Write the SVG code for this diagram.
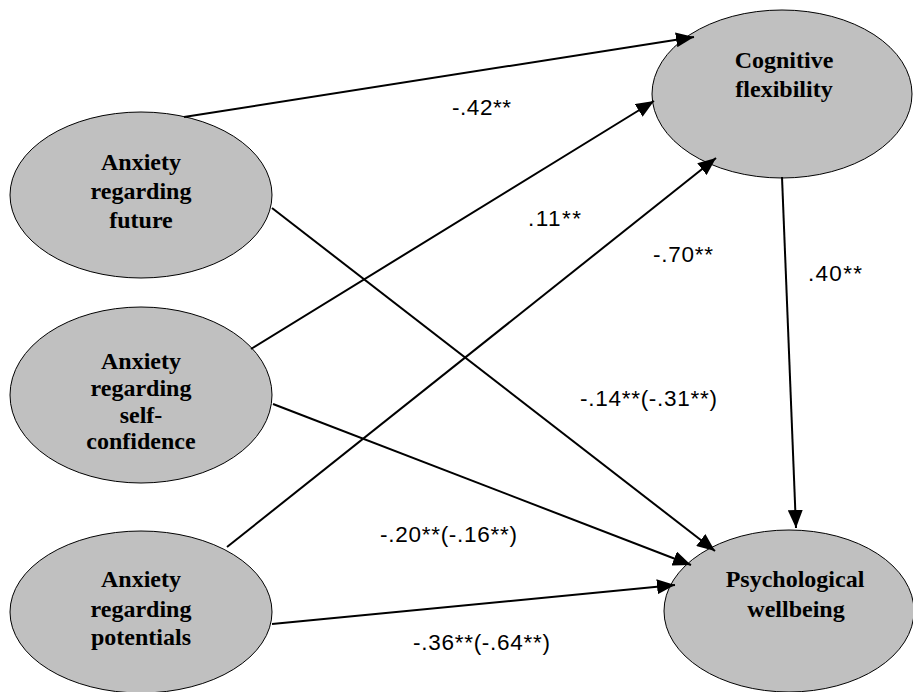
<svg xmlns="http://www.w3.org/2000/svg" width="913" height="692" viewBox="0 0 913 692">
  <defs>
    <style>
      .node ellipse { fill: #c0c0c0; stroke: #000; stroke-width: 1; }
      .node text { font-family: "Liberation Serif", "Times New Roman", serif; font-weight: bold; font-size: 24px; fill: #000; text-anchor: middle; }
      .edge { stroke: #000; stroke-width: 2; fill: none; marker-end: url(#arrow); }
      .lbl { font-family: "Liberation Sans", Arial, sans-serif; font-size: 22.5px; fill: #000; }
    </style>
    <marker id="arrow" markerUnits="userSpaceOnUse" markerWidth="19" markerHeight="15" refX="18" refY="7.5" orient="auto">
      <path d="M0,0 L18,7.5 L0,15 z" fill="#000"/>
    </marker>
  </defs>
  <rect width="913" height="692" fill="#fff"/>

  <g id="future" class="node">
    <ellipse cx="141" cy="195" rx="131" ry="83"/>
    <text x="141" y="170">Anxiety</text>
    <text x="141" y="199">regarding</text>
    <text x="141" y="228">future</text>
  </g>
  <g id="selfconfidence" class="node">
    <ellipse cx="141" cy="395" rx="131" ry="88"/>
    <text x="141" y="369">Anxiety</text>
    <text x="141" y="396">regarding</text>
    <text x="141" y="423">self-</text>
    <text x="141" y="449">confidence</text>
  </g>
  <g id="potentials" class="node">
    <ellipse cx="141" cy="612" rx="131" ry="81"/>
    <text x="141" y="587">Anxiety</text>
    <text x="141" y="617">regarding</text>
    <text x="141" y="645">potentials</text>
  </g>
  <g id="cognitive" class="node">
    <ellipse cx="782" cy="94" rx="130" ry="84"/>
    <text x="784" y="68">Cognitive</text>
    <text x="784" y="97">flexibility</text>
  </g>
  <g id="wellbeing" class="node">
    <ellipse cx="789" cy="611" rx="125" ry="81"/>
    <text x="795" y="587">Psychological</text>
    <text x="796" y="617">wellbeing</text>
  </g>

  <g id="connectors">
    <line class="edge" x1="184" y1="117" x2="694" y2="37"/>
    <line class="edge" x1="251" y1="349" x2="654" y2="101"/>
    <line class="edge" x1="227" y1="547" x2="716" y2="158"/>
    <line class="edge" x1="272" y1="208" x2="715" y2="551"/>
    <line class="edge" x1="273" y1="404" x2="691" y2="565"/>
    <line class="edge" x1="272" y1="624" x2="675" y2="585"/>
    <line class="edge" x1="782" y1="177" x2="796" y2="528"/>
  </g>

  <g id="labels">
    <text class="lbl" x="452" y="115" textLength="59" lengthAdjust="spacing">-.42**</text>
    <text class="lbl" x="528" y="226" textLength="53" lengthAdjust="spacing">.11**</text>
    <text class="lbl" x="653" y="262" textLength="60" lengthAdjust="spacing">-.70**</text>
    <text class="lbl" x="808" y="281" textLength="54" lengthAdjust="spacing">.40**</text>
    <text class="lbl" x="580" y="406" textLength="137" lengthAdjust="spacing">-.14**(-.31**)</text>
    <text class="lbl" x="380" y="542" textLength="137" lengthAdjust="spacing">-.20**(-.16**)</text>
    <text class="lbl" x="413" y="650" textLength="137" lengthAdjust="spacing">-.36**(-.64**)</text>
  </g>
</svg>
